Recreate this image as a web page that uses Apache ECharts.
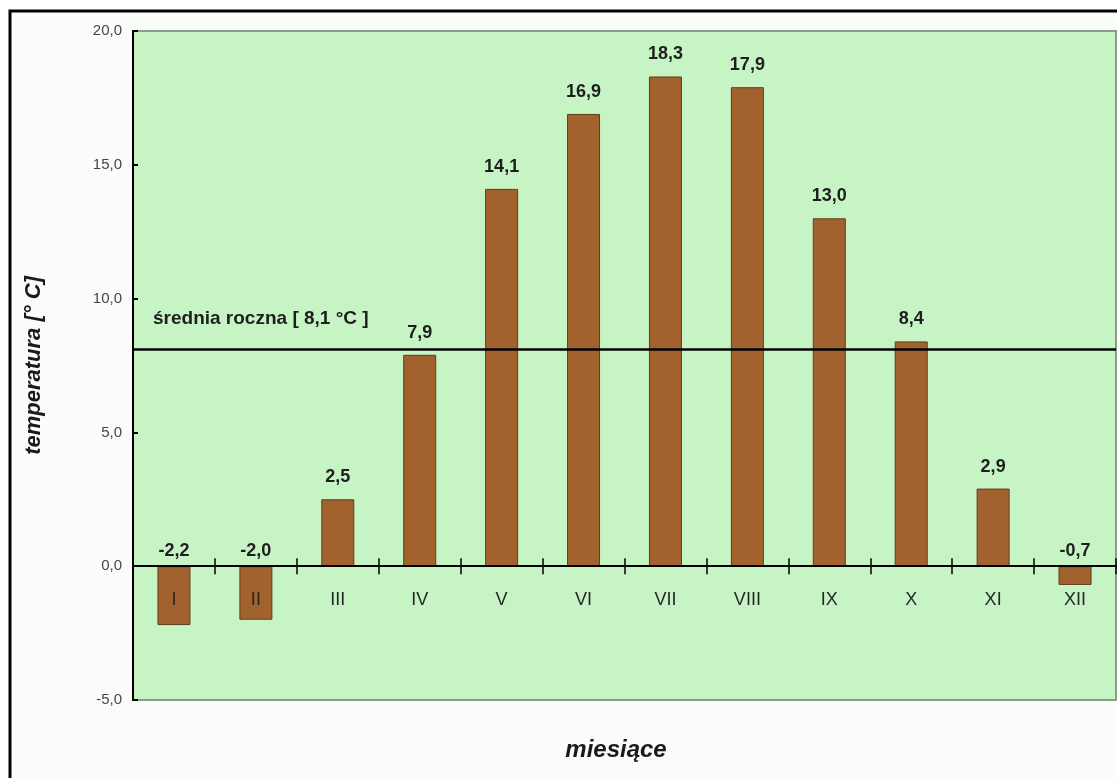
<!DOCTYPE html>
<html>
<head>
<meta charset="utf-8">
<title>Średnie miesięczne temperatury powietrza</title>
<script src="https://cdn.jsdelivr.net/npm/echarts@6/dist/echarts.min.js"></script>
<style>
  html, body { margin: 0; padding: 0; background: #ffffff; }
  #chart { width: 1117px; height: 778px; }
</style>
</head>
<body>
<div id="chart"></div>
<script>
// Miesiące (cyfry rzymskie) i średnie temperatury miesięczne [°C]
const months = ['I', 'II', 'III', 'IV', 'V', 'VI', 'VII', 'VIII', 'IX', 'X', 'XI', 'XII'];
const temperatures = [-2.2, -2.0, 2.5, 7.9, 14.1, 16.9, 18.3, 17.9, 13.0, 8.4, 2.9, -0.7];
// Średnia roczna
const annualMean = [8.1];
// Zakres osi temperatury
const yRange = [-5, 20];
const yStep = 5;

const fmt = v => Number(v).toFixed(1).replace('.', ',');
const baseFont = "'Liberation Sans', Arial, sans-serif";
const H = 778;
const plot = { left: 133, top: 31, right: 1, bottom: 78 };

const chart = echarts.init(document.getElementById('chart'), null, { renderer: 'canvas' });

// Oś miesięcy na poziomie 0 °C: pomocnicze siatki kończące się na linii zera,
// jedna z kreskami na zewnątrz (w dół), druga z kreskami do wewnątrz (w górę)
function monthAxes(zeroY) {
  return {
    grid: [
      {
        left: plot.left, top: plot.top, right: plot.right, bottom: plot.bottom,
        show: true,
        backgroundColor: '#c6f4c4',
        borderColor: '#8a9c8a',
        borderWidth: 2
      },
      { left: plot.left, right: plot.right, top: plot.top, bottom: H - zeroY, show: false },
      { left: plot.left, right: plot.right, top: plot.top, bottom: H - zeroY, show: false }
    ],
    xAxis: [
      {
        type: 'category', gridIndex: 0, data: months,
        axisLine: { show: false }, axisTick: { show: false }, axisLabel: { show: false },
        splitLine: { show: false }
      },
      {
        type: 'category', gridIndex: 1, data: months, position: 'bottom', z: 10,
        axisLine: { show: true, lineStyle: { color: '#000000', width: 2 } },
        axisTick: { show: true, length: 8, lineStyle: { color: '#000000', width: 1.5 } },
        axisLabel: {
          margin: 25,
          fontFamily: baseFont,
          fontSize: 18,
          color: '#262626'
        },
        splitLine: { show: false }
      },
      {
        type: 'category', gridIndex: 2, data: months, position: 'bottom', z: 10,
        axisLine: { show: false },
        axisTick: { show: true, inside: true, length: 8, lineStyle: { color: '#000000', width: 1.5 } },
        axisLabel: { show: false },
        splitLine: { show: false }
      }
    ]
  };
}

chart.setOption({
  backgroundColor: '#ffffff',
  animation: false,
  graphic: [
    {
      type: 'rect',
      z: -10,
      shape: { x: 10, y: 11, width: 1130, height: 790 },
      style: { fill: '#fafcfa', stroke: '#000000', lineWidth: 3 }
    },
    {
      type: 'text',
      x: 616,
      y: 750,
      style: {
        text: 'miesiące',
        font: "italic bold 24px 'Liberation Sans', Arial, sans-serif",
        fill: '#1a1a1a',
        textAlign: 'center',
        textVerticalAlign: 'middle'
      }
    }
  ],
  ...monthAxes(566),
  yAxis: [
    {
      type: 'value',
      gridIndex: 0,
      min: yRange[0],
      max: yRange[1],
      interval: yStep,
      name: 'temperatura [° C]',
      nameLocation: 'middle',
      nameGap: 88,
      nameRotate: 90,
      nameTextStyle: {
        fontFamily: baseFont,
        fontSize: 22,
        fontWeight: 'bold',
        fontStyle: 'italic',
        color: '#1a1a1a'
      },
      axisLine: { show: true, onZero: false, lineStyle: { color: '#000000', width: 2 } },
      axisTick: { show: true, inside: true, length: 5, lineStyle: { color: '#000000', width: 2 } },
      axisLabel: {
        margin: 11,
        formatter: fmt,
        fontFamily: baseFont,
        fontSize: 15,
        color: '#454545'
      },
      splitLine: { show: false }
    },
    { type: 'value', gridIndex: 1, show: false },
    { type: 'value', gridIndex: 2, show: false }
  ],
  series: [
    {
      type: 'bar',
      xAxisIndex: 0,
      yAxisIndex: 0,
      data: temperatures.map(v => ({
        value: v,
        label: { distance: v < 0 ? 6 : 13 }
      })),
      barWidth: 33,
      itemStyle: {
        color: '#a2622d',
        borderColor: '#5e3d1c',
        borderWidth: 1
      },
      label: {
        show: true,
        position: 'top',
        formatter: p => fmt(p.value),
        fontFamily: baseFont,
        fontSize: 18,
        fontWeight: 'bold',
        color: '#1e1e1e'
      },
      markLine: {
        silent: true,
        symbol: 'none',
        lineStyle: { color: '#000000', width: 2.5, type: 'solid' },
        label: {
          show: true,
          position: 'insideStartTop',
          distance: [20, 21],
          formatter: 'średnia roczna [ ' + fmt(annualMean[0]) + ' °C ]',
          fontFamily: baseFont,
          fontSize: 19,
          fontWeight: 'bold',
          color: '#1e1e1e'
        },
        data: [{ yAxis: annualMean[0] }]
      }
    }
  ]
});

// Położenie linii 0 °C wyznaczone ze skali osi temperatury
const zeroY = chart.convertToPixel({ yAxisIndex: 0 }, 0);
chart.setOption(monthAxes(zeroY));
</script>
</body>
</html>
